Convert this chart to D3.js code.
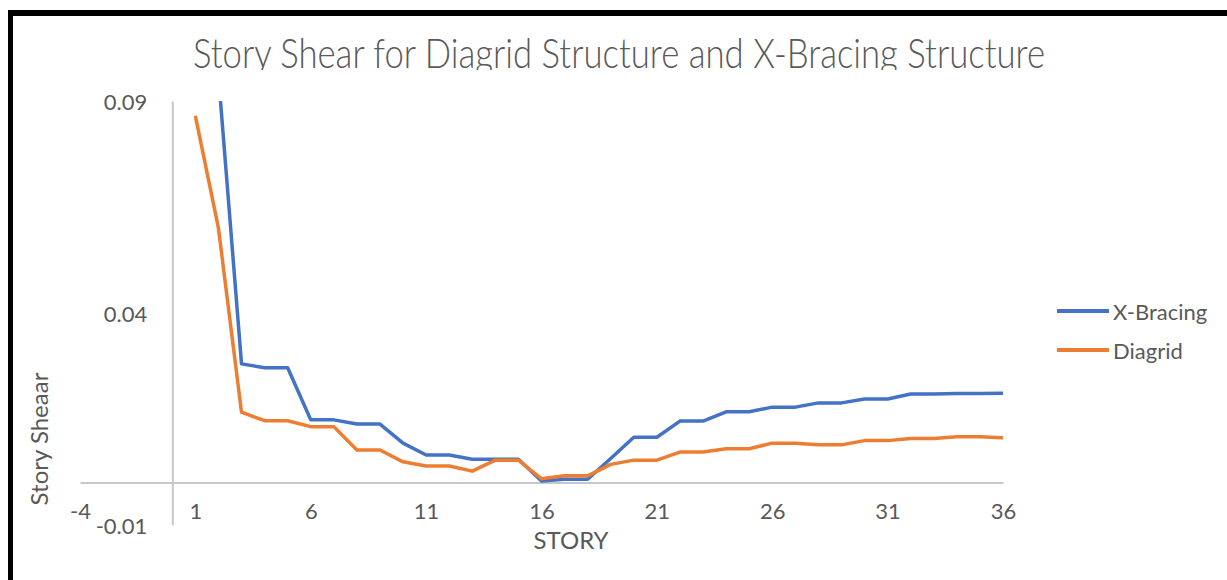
<!DOCTYPE html>
<html>
<head>
<meta charset="utf-8">
<script src="https://cdn.jsdelivr.net/npm/d3@7"></script>
<style>
  body { margin: 0; background: #fff; }
  text { font-family: Lato, "Open Sans", sans-serif; fill: #595959; }
</style>
</head>
<body>
<svg id="canvas" width="1227" height="580"></svg>
<script>
// story numbers 1..36
const stories = d3.range(1, 37)

const xBracing = [0.120, 0.096, 0.0280, 0.0271, 0.0271, 0.0148, 0.0148, 0.0138, 0.0138, 0.0093,
    0.0065, 0.0065, 0.0055, 0.0055, 0.0055, 0.0004, 0.0008, 0.0008, 0.0057, 0.0107,
    0.0107, 0.0145, 0.0145, 0.0167, 0.0167, 0.0178, 0.0178, 0.0188, 0.0188, 0.0197,
    0.0197, 0.0209, 0.0209, 0.0210, 0.0210, 0.0211]

const diagrid = [0.0865, 0.0600, 0.0166, 0.0146, 0.0146, 0.0132, 0.0132, 0.0077, 0.0077, 0.0049,
    0.0039, 0.0039, 0.0027, 0.0053, 0.0053, 0.0009, 0.0016, 0.0016, 0.0043, 0.0053,
    0.0053, 0.0072, 0.0072, 0.0080, 0.0080, 0.0093, 0.0093, 0.0089, 0.0089, 0.0099,
    0.0099, 0.0104, 0.0104, 0.0108, 0.0108, 0.0106]

const xTicks = [-4, 1, 6, 11, 16, 21, 26, 31, 36]
const yTicks = [-0.01, 0.04, 0.09]

const seriesNames = ["X-Bracing", "Diagrid"]
const seriesColors = ["#4472C4", "#ED7D31"]

const svg = d3.select('#canvas')

const x = d3.scaleLinear().domain([-4, 36]).range([80, 1003])
const y = d3.scaleLinear().domain([-0.01, 0.09]).range([525, 101])

// frame (top and left edge only)
svg.append('rect').attr('x', 8).attr('y', 10).attr('width', 1219).attr('height', 6).attr('fill', '#000')
svg.append('rect').attr('x', 8).attr('y', 10).attr('width', 5).attr('height', 570).attr('fill', '#000')

const defs = svg.append('defs')
defs.append('clipPath').attr('id', 'plotClip')
    .append('rect').attr('x', 80).attr('y', 101).attr('width', 923).attr('height', 424)
defs.append('clipPath').attr('id', 'titleClip')
    .append('rect').attr('x', 0).attr('y', 17).attr('width', 1227).attr('height', 53)
defs.append('clipPath').attr('id', 'legendClip')
    .append('rect').attr('x', 1040).attr('y', 280).attr('width', 187).attr('height', 84)

// title
svg.append('text')
    .attr('clip-path', 'url(#titleClip)')
    .attr('x', 193).attr('y', 68)
    .attr('font-size', 41)
    .attr('font-weight', 300)
    .attr('textLength', 852)
    .attr('lengthAdjust', 'spacingAndGlyphs')
    .text('Story Shear for Diagrid Structure and X-Bracing Structure')

// x axis
const xAxis = svg.append('g')
    .attr('transform', `translate(0,${y(0)})`)
    .call(d3.axisBottom(x).tickValues(xTicks).tickSize(0).tickSizeOuter(0).tickPadding(0)
        .tickFormat(d => String(d)))
xAxis.select('.domain').attr('stroke', '#c8c8c8').attr('stroke-width', 2)
xAxis.selectAll('text')
    .attr('font-size', 22).attr('dy', null).attr('y', 36)
    .attr('font-family', 'Lato, sans-serif').style('fill', '#595959')

// y axis
const yAxis = svg.append('g')
    .attr('transform', `translate(${x(0)},0)`)
    .call(d3.axisLeft(y).tickValues(yTicks).tickSize(0).tickSizeOuter(0).tickPadding(25)
        .tickFormat(d => d.toFixed(2)))
yAxis.select('.domain').attr('stroke', '#c8c8c8').attr('stroke-width', 2)
yAxis.selectAll('text')
    .attr('font-size', 22).attr('dy', '0.4em')
    .attr('font-family', 'Lato, sans-serif').style('fill', '#595959')

// axis titles
svg.append('text')
    .attr('x', 571).attr('y', 549)
    .attr('text-anchor', 'middle')
    .attr('font-size', 24)
    .text('STORY')

svg.append('text')
    .attr('transform', 'translate(48,439) rotate(-90)')
    .attr('text-anchor', 'middle')
    .attr('font-size', 24)
    .text('Story Sheaar')

// lines
const line = d3.line()
    .x((d, i) => x(stories[i]))
    .y(d => y(d))

const plot = svg.append('g').attr('clip-path', 'url(#plotClip)')
const allSeries = [xBracing, diagrid]
allSeries.forEach((values, i) => {
    plot.append('path')
        .datum(values)
        .attr('d', line)
        .attr('fill', 'none')
        .attr('stroke', seriesColors[i])
        .attr('stroke-width', 3.5)
        .attr('stroke-linejoin', 'round')
})

// legend
const legend = svg.append('g').attr('clip-path', 'url(#legendClip)')
seriesNames.forEach((name, i) => {
    let ly = 311 + i * 39
    legend.append('line')
        .attr('x1', 1057).attr('x2', 1109)
        .attr('y1', ly).attr('y2', ly)
        .attr('stroke', seriesColors[i])
        .attr('stroke-width', 4)
    legend.append('text')
        .attr('x', 1113).attr('y', ly + 9)
        .attr('font-size', 22)
        .text(name)
})
</script>
</body>
</html>
